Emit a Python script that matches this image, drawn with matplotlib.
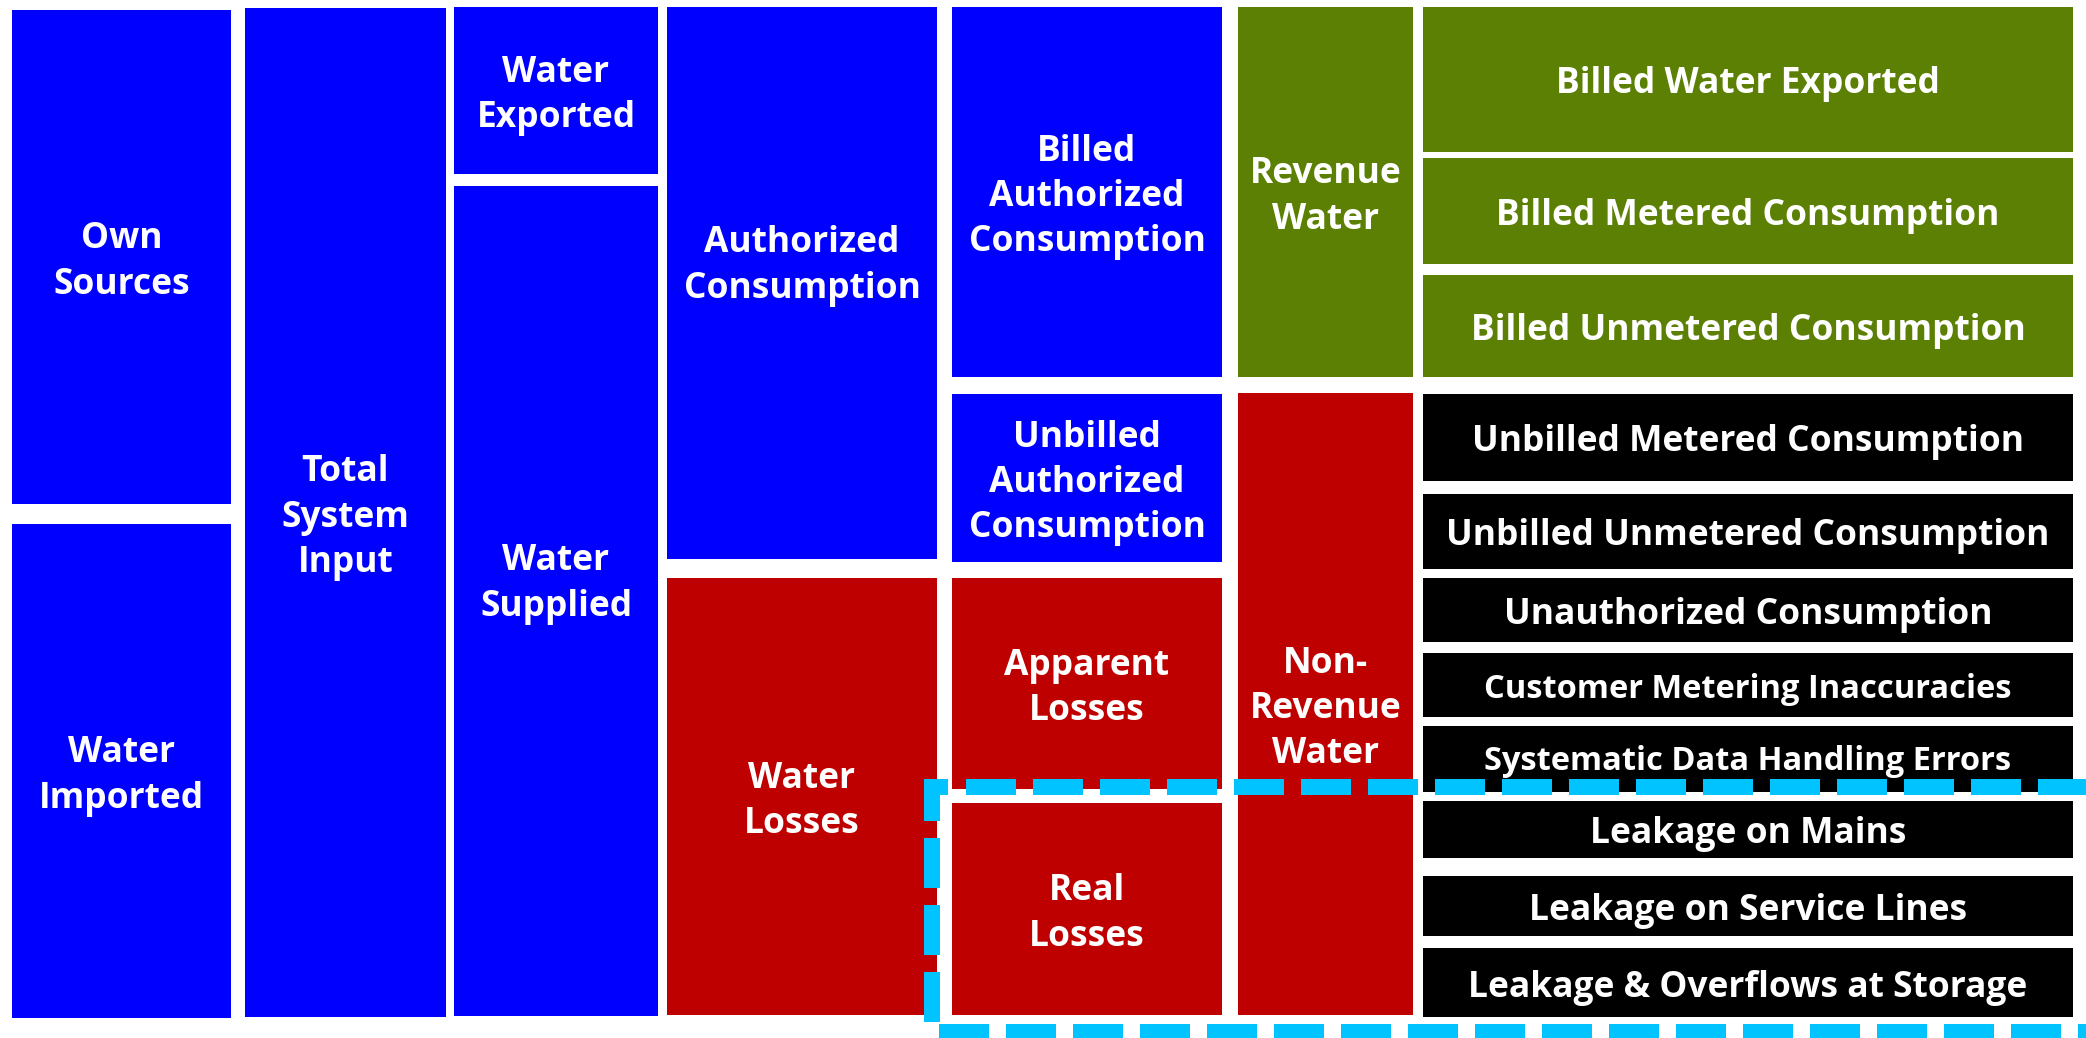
import matplotlib.pyplot as plt
from matplotlib.patches import Rectangle

# IWA water balance: labels per column, top to bottom
col1_labels = ["Own\nSources", "Water\nImported"]
col2_labels = ["Total\nSystem\nInput"]
col3_labels = ["Water\nExported", "Water\nSupplied"]
col4_labels = ["Authorized\nConsumption", "Water\nLosses"]
col5_labels = ["Billed\nAuthorized\nConsumption", "Unbilled\nAuthorized\nConsumption",
               "Apparent\nLosses", "Real\nLosses"]
col6_labels = ["Revenue\nWater", "Non-\nRevenue\nWater"]
col7_labels = ["Billed Water Exported", "Billed Metered Consumption",
               "Billed Unmetered Consumption", "Unbilled Metered Consumption",
               "Unbilled Unmetered Consumption", "Unauthorized Consumption",
               "Customer Metering Inaccuracies", "Systematic Data Handling Errors",
               "Leakage on Mains", "Leakage on Service Lines",
               "Leakage & Overflows at Storage"]

BLUE = "#0000FF"
RED = "#BF0000"
GREEN = "#5B8003"
BLACK = "#000000"
CYAN = "#00C3FF"

# layout (pixels): column x-extent, then rows as (top, bottom, colour, text y-shift)
layout = [
    ((12, 231), col1_labels, [(10, 504, BLUE, 0), (524, 1018, BLUE, 0)]),
    ((245, 446), col2_labels, [(8, 1017, BLUE, 0)]),
    ((454, 658), col3_labels, [(7, 174, BLUE, 0), (186, 1016, BLUE, -22)]),
    ((667, 937), col4_labels, [(7, 559, BLUE, -22), (578, 1015, RED, 0)]),
    ((952, 1222), col5_labels, [(7, 377, BLUE, 0), (394, 562, BLUE, 0),
                                (578, 789, RED, 0), (803, 1015, RED, 0)]),
    ((1238, 1413), col6_labels, [(7, 377, GREEN, 0), (393, 1015, RED, 0)]),
    ((1423, 2073), col7_labels, [(7, 152, GREEN, 0), (158, 264, GREEN, 0),
                                 (275, 377, GREEN, 0), (394, 481, BLACK, 0),
                                 (494, 569, BLACK, 0), (578, 642, BLACK, 0),
                                 (653, 717, BLACK, 0), (726, 792, BLACK, -2),
                                 (801, 858, BLACK, 0), (876, 936, BLACK, 0),
                                 (948, 1017, BLACK, 0)]),
]
small_labels = {"Customer Metering Inaccuracies", "Systematic Data Handling Errors"}

plt.rcParams['font.family'] = ['Open Sans', 'DejaVu Sans']
fig = plt.figure(figsize=(20.86, 10.38), dpi=100)
ax = fig.add_axes([0, 0, 1, 1])
ax.set_xlim(0, 2086)
ax.set_ylim(1038, 0)
ax.axis('off')

for (x0, x1), labels, rows in layout:
    for label, (y0, y1, color, dy) in zip(labels, rows):
        ax.add_patch(Rectangle((x0, y0), x1 - x0, y1 - y0, facecolor=color,
                               edgecolor='none', zorder=1))
        size = 23.5 if label in small_labels else 25.5
        ax.text((x0 + x1) / 2, (y0 + y1) / 2 + dy + 5, label, color='white',
                fontsize=size, fontweight='bold', ha='center', va='center',
                linespacing=1.35, zorder=2)

# dashed outline around the real losses
lw = 16 * 72 / 100
dash = (0, (50 / 16, 17 / 16))
ax.plot([966, 2100], [787, 787], color=CYAN, lw=lw, linestyle=dash,
        solid_capstyle='butt', zorder=3)
ax.plot([948, 932, 932, 2100], [787, 787, 1032, 1032], color=CYAN, lw=lw,
        linestyle=dash, dash_joinstyle='miter', zorder=3)

fig.savefig("out.png", dpi=100)
